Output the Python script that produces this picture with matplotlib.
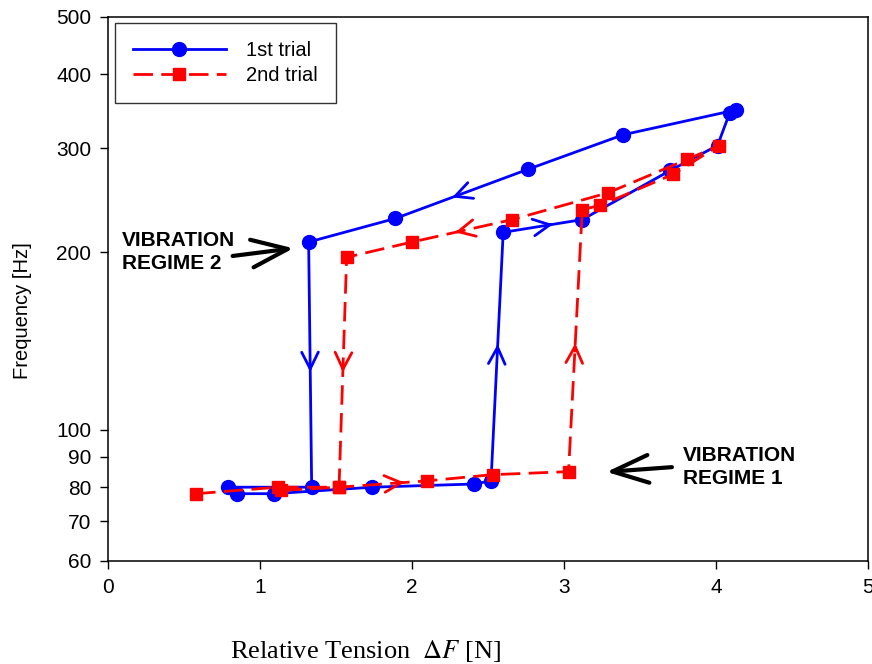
import matplotlib
matplotlib.use("Agg")
import matplotlib.pyplot as plt
from matplotlib.ticker import FixedLocator, FixedFormatter, NullLocator

plt.rcParams['font.family'] = ['Liberation Sans', 'DejaVu Sans']
plt.rcParams['mathtext.fontset'] = 'stix'

# ---- data ----
trial1_x = [0.85, 1.09, 1.74, 2.41, 2.52, 2.60, 3.12, 3.70, 4.01, 4.09, 4.13,
            3.39, 2.76, 1.89, 1.32, 1.34, 0.79]
trial1_y = [78, 78, 80, 81, 82, 216, 227, 275, 303, 344, 348,
            316, 276, 228, 208, 80, 80]
trial2_x = [0.58, 1.12, 1.52, 2.10, 2.53, 3.03, 3.12, 3.24, 3.72, 4.02, 3.81,
            3.29, 2.66, 2.00, 1.57, 1.52, 1.14]
trial2_y = [78, 80, 80, 82, 84, 85, 236, 240, 271, 303, 287,
            252, 227, 208, 196, 80, 79]

x_ticks = [0, 1, 2, 3, 4, 5]
y_ticks = [60, 70, 80, 90, 100, 200, 300, 400, 500]
y_ticklabels = ['60', '70', '80', '90', '100', '200', '300', '400', '500']

# direction arrows: (segment index, fraction along segment)
arrows1 = [(4, 0.55), (5, 0.63), (12, 0.57), (14, 0.53)]
arrows2 = [(2, 0.74), (5, 0.49), (12, 0.57), (14, 0.50)]

fig = plt.figure(figsize=(8.72, 6.64), dpi=100)
ax = fig.add_axes([108/872, 1-561/664, 760/872, 544/664])

blue = '#0000ff'
red = '#ff0000'

ax.plot(trial1_x, trial1_y, color=blue, lw=2, marker='o', ms=10,
        label='1st trial', zorder=3)
ax.plot(trial2_x, trial2_y, color=red, lw=2, ls=(0, (7, 3)), marker='s', ms=9,
        label='2nd trial', zorder=4)


def seg_arrow(xs, ys, i, t, color):
    x0, x1 = xs[i], xs[i+1]
    y0, y1 = ys[i], ys[i+1]
    xt = x0 + (x1 - x0) * t
    yt = y0 * (y1 / y0) ** t
    tb = t - 0.03
    xb = x0 + (x1 - x0) * tb
    yb = y0 * (y1 / y0) ** tb
    ax.annotate('', xy=(xt, yt), xytext=(xb, yb),
                arrowprops=dict(arrowstyle='->,head_length=0.6,head_width=0.3',
                                color=color, lw=2, mutation_scale=20,
                                shrinkA=0, shrinkB=0), zorder=5)


for i, t in arrows1:
    seg_arrow(trial1_x, trial1_y, i, t, blue)
for i, t in arrows2:
    seg_arrow(trial2_x, trial2_y, i, t, red)

# regime annotations
ax.annotate('', xy=(1.22, 203), xytext=(0.82, 197),
            arrowprops=dict(arrowstyle='->,head_length=1.3,head_width=0.5',
                            color='black', lw=3, mutation_scale=20,
                            shrinkA=0, shrinkB=0), zorder=6)
ax.text(0.092, 200, 'VIBRATION\nREGIME 2', fontsize=15, fontweight='bold',
        ha='left', va='center', linespacing=1.3)
ax.annotate('', xy=(3.28, 84.9), xytext=(3.71, 86.5),
            arrowprops=dict(arrowstyle='->,head_length=1.3,head_width=0.5',
                            color='black', lw=3, mutation_scale=20,
                            shrinkA=0, shrinkB=0), zorder=6)
ax.text(3.78, 86.5, 'VIBRATION\nREGIME 1', fontsize=15, fontweight='bold',
        ha='left', va='center', linespacing=1.3)

ax.set_yscale('log')
ax.set_xlim(0, 5)
ax.set_ylim(60, 500)
ax.xaxis.set_major_locator(FixedLocator(x_ticks))
ax.yaxis.set_major_locator(FixedLocator(y_ticks))
ax.yaxis.set_major_formatter(FixedFormatter(y_ticklabels))
ax.yaxis.set_minor_locator(NullLocator())
ax.tick_params(axis='both', which='major', direction='out', length=6, width=1,
               labelsize=15, pad=6)
for s in ax.spines.values():
    s.set_linewidth(1.1)

leg = ax.legend(loc='upper left', bbox_to_anchor=(0.0092, 0.989),
                borderaxespad=0, fontsize=14.5, frameon=True, fancybox=False,
                edgecolor='black', handlelength=4.6, handletextpad=1.0,
                borderpad=0.9, labelspacing=0.3)
leg.get_frame().set_linewidth(1.0)

fig.text(22/872, 1-311/664, 'Frequency [Hz]', rotation=90, fontsize=14.5,
         ha='center', va='center')
fig.text(365/872, 1-651/664, r'Relative Tension  $\Delta F$ [N]',
         fontsize=19, family=['Liberation Serif', 'DejaVu Serif'],
         ha='center', va='center')

fig.savefig('out.png', dpi=100)
